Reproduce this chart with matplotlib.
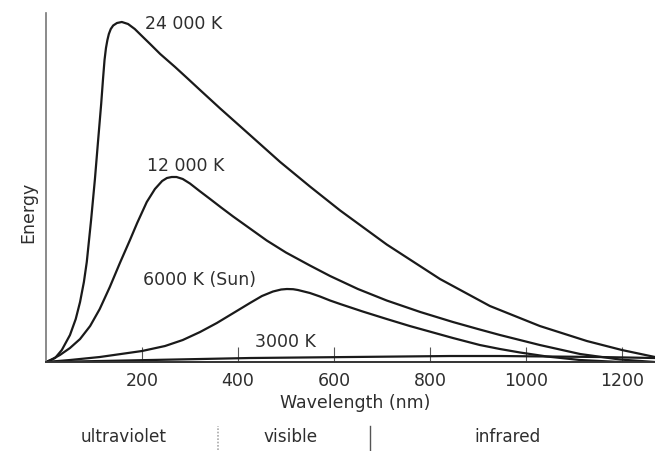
import matplotlib
matplotlib.use('Agg')
import matplotlib.pyplot as plt

plt.rcParams['font.family'] = ['DejaVu Sans']

# wavelength (nm) and relative energy for each temperature
wl_24000 = [0, 19, 33, 50, 62, 71, 79, 85, 94, 102, 108, 115, 119, 122, 125, 128, 131, 135, 140,
            148, 158, 171, 185, 202, 217, 238, 269, 294, 321, 363, 425, 488, 550, 613, 710,
            821, 925, 1029, 1127, 1200, 1269]
en_24000 = [0, 4, 12, 27, 43, 60, 80, 100, 142, 183, 218, 258, 284, 302, 314, 322, 328, 333, 336.5,
            339, 340, 338, 333, 325, 318, 308, 295, 284, 272, 253.5, 227, 200, 175.5, 151.5, 117.5,
            83, 56, 36, 21, 12, 5]

wl_12000 = [0, 8, 29, 50, 71, 92, 112, 133, 154, 175, 190, 210, 227, 242, 252, 262, 272, 285,
            300, 320, 342, 365, 390, 425, 460, 500, 550, 592, 650, 710, 780, 848, 900, 946,
            1029, 1113, 1196, 1269]
en_12000 = [0, 1.5, 7, 14, 23, 36, 53, 75, 99, 122, 139, 160, 173, 181, 184, 185, 185, 183,
            178.5, 171, 163, 154.5, 145.5, 133.5, 121.5, 109.5, 96.5, 86, 73, 61.5, 50, 40, 33, 27,
            17, 8, 2.5, 0]

wl_6000 = [0, 50, 112, 200, 248, 285, 321, 356, 394, 425, 450, 473, 490, 502, 515, 525, 550, 571,
           592, 613, 660, 710, 758, 848, 904, 946, 988, 1044, 1113, 1196]
en_6000 = [0, 2, 5, 11, 16, 22, 30, 39, 50, 59, 66, 70.5, 72.5, 73, 72.8, 72, 69, 65.5,
           61.5, 58, 50.5, 43, 36, 24, 17, 13, 9.5, 5.5, 2, 0]

wl_3000 = [0, 112, 217, 321, 425, 529, 633, 738, 842, 946, 1050, 1154, 1269]
en_3000 = [0, 1, 2, 3, 4, 4.5, 5, 5.5, 6, 6, 5.5, 5, 4]

curve_labels = ['24 000 K', '12 000 K', '6000 K (Sun)', '3000 K']
label_pos = [(206, 338), (210, 196), (202, 82), (435, 20)]

xtick_values = [200, 400, 600, 800, 1000, 1200]
bands = ['ultraviolet', 'visible', 'infrared']

text_color = '#2e2e2e'

fig = plt.figure(figsize=(6.55, 4.51), dpi=100)
ax = fig.add_axes([0.0702, 0.1973, 0.9298, 0.7739])

for wl, en in [(wl_24000, en_24000), (wl_12000, en_12000), (wl_6000, en_6000), (wl_3000, en_3000)]:
    ax.plot(wl, en, color='#1a1a1a', linewidth=1.6, solid_joinstyle='round')

for text, (x, y) in zip(curve_labels, label_pos):
    ax.text(x, y, text, fontsize=12.5, color=text_color, ha='left', va='center')

ax.set_xlim(0, 1269)
ax.set_ylim(0, 349)
ax.spines['top'].set_visible(False)
ax.spines['right'].set_visible(False)
ax.spines['left'].set_color('#777777')
ax.spines['left'].set_linewidth(1.2)
ax.spines['bottom'].set_color('#333333')
ax.spines['bottom'].set_linewidth(1.4)

ax.set_xticks(xtick_values)
ax.set_xticklabels([str(v) for v in xtick_values])
ax.set_yticks([])
ax.tick_params(axis='x', direction='in', length=11, width=0.8, color='#555555',
               pad=7, labelsize=12.5, labelcolor=text_color)

fig.text(0.542, 0.1064, 'Wavelength (nm)', fontsize=12.5, color=text_color, ha='center', va='center')
fig.text(0.0427, 0.53, 'Energy', fontsize=12.5, color=text_color, rotation=90, ha='center', va='center')

# spectral bands under the axis
fig.text(0.189, 0.031, bands[0], fontsize=12.2, color=text_color, ha='center', va='center')
fig.text(0.443, 0.031, bands[1], fontsize=12.2, color=text_color, ha='center', va='center')
fig.text(0.775, 0.031, bands[2], fontsize=12.2, color=text_color, ha='center', va='center')
fig.add_artist(plt.Line2D([218 / 655, 218 / 655], [1 - 450 / 451, 1 - 426 / 451],
                          color='#aaaaaa', linewidth=1.2, linestyle=(0, (1, 1))))
fig.add_artist(plt.Line2D([370 / 655, 370 / 655], [1 - 450 / 451, 1 - 426 / 451],
                          color='#555555', linewidth=1.0))

fig.savefig('out.png', dpi=100)
